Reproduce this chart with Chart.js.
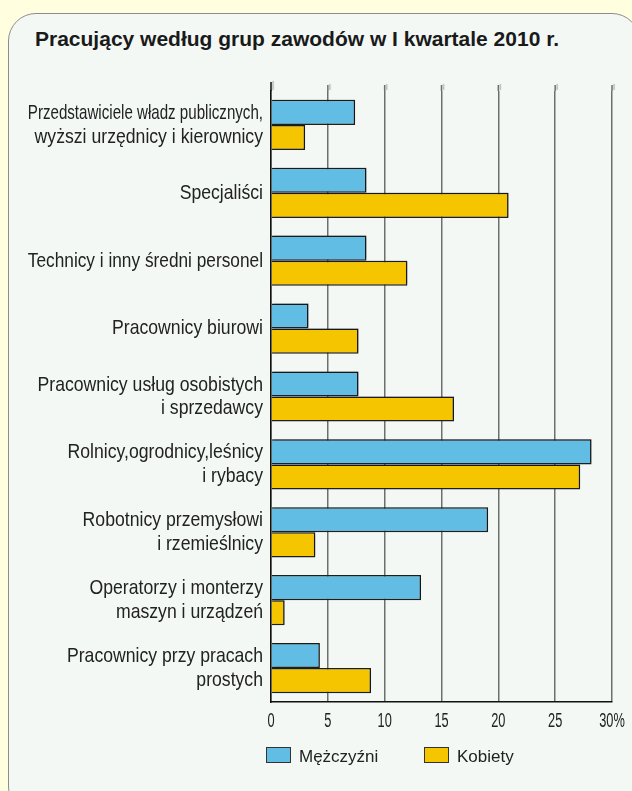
<!DOCTYPE html>
<html>
<head>
<meta charset="utf-8">
<script src="https://cdn.jsdelivr.net/npm/chart.js@4"></script>
<style>
  body { margin: 0; background: #ffffdf; width: 632px; height: 791px; overflow: hidden; position: relative; }
  #panel { position: absolute; left: 8px; top: 13px; width: 630px; height: 800px;
           background: #f3f8f5; border: 1px solid #8c8c8c; border-radius: 28px; }
  #title { position: absolute; left: 35px; top: 27px; font: bold 21px "Liberation Sans", Arial, sans-serif; color: #1a1a1a; white-space: nowrap; }
  #chart-wrap { position: absolute; left: 0; top: 0; width: 632px; height: 791px; }
  .leg { position: absolute; top: 747px; font: 17px "Liberation Sans", Arial, sans-serif; color: #222; white-space: nowrap; }
  .leg span { display: inline-block; width: 23px; height: 14px; border: 1px solid #333; vertical-align: -1px; margin-right: 8px; }
</style>
</head>
<body>
<div id="panel"></div>
<div id="title">Pracujący według grup zawodów w I kwartale 2010 r.</div>
<div id="chart-wrap"><canvas id="chart" width="632" height="791"></canvas></div>
<div class="leg" style="left:266px"><span style="background:#61bde4"></span>Mężczyźni</div>
<div class="leg" style="left:424px"><span style="background:#f5c500"></span>Kobiety</div>
<script>
var categories = [
    ["Przedstawiciele władz publicznych,", "wyższi urzędnicy i kierownicy"],
    "Specjaliści",
    "Technicy i inny średni personel",
    "Pracownicy biurowi",
    ["Pracownicy usług osobistych", "i sprzedawcy"],
    ["Rolnicy,ogrodnicy,leśnicy", "i rybacy"],
    ["Robotnicy przemysłowi", "i rzemieślnicy"],
    ["Operatorzy i monterzy", "maszyn i urządzeń"],
    ["Pracownicy przy pracach", "prostych"]
];
var men = [7.4, 8.4, 8.4, 3.3, 7.7, 28.2, 19.1, 13.2, 4.3];
var women = [3.0, 20.9, 12.0, 7.7, 16.1, 27.2, 3.9, 1.2, 8.8];
var xMax = 30;
var xStep = 5;

var sans = '"Liberation Sans", Arial, sans-serif';
var gridColor = '#6e6e6e';

var barShadow = {
    id: 'barShadow',
    beforeDatasetsDraw: function (chart) {
        var ctx = chart.ctx;
        ctx.save();
        ctx.shadowColor = 'rgba(0,0,0,0.25)';
        ctx.shadowOffsetX = 2;
        ctx.shadowOffsetY = -1;
        ctx.shadowBlur = 1;
    },
    afterDatasetsDraw: function (chart) {
        chart.ctx.restore();
    }
};

// grid lines and the axis poke a little above the plot in the original
var gridStubs = {
    id: 'gridStubs',
    beforeDatasetsDraw: function (chart) {
        var ctx = chart.ctx, x = chart.scales.x, top = chart.chartArea.top;
        ctx.save();
        ctx.lineWidth = 1.5;
        x.ticks.forEach(function (t) {
            var px = x.getPixelForValue(t.value);
            ctx.strokeStyle = t.value === 0 ? '#111' : gridColor;
            ctx.beginPath();
            ctx.moveTo(px, top - (t.value === 0 ? 9 : 6));
            ctx.lineTo(px, top);
            ctx.stroke();
        });
        ctx.restore();
    }
};

// the original uses a narrow face; there is none installed, so squeeze the tick text
var squeeze = function (scale, s, maxWidth) {
    if (scale._squeezed) return;
    var origItems = scale.getLabelItems;
    var origDraw = scale.drawLabels;
    scale.getLabelItems = function (area) {
        var items = origItems.call(this, area);
        items.forEach(function (it) {
            if (it._sq) return;
            it.options.translation = [it.options.translation[0] / s, it.options.translation[1]];
            if (maxWidth) it.options.maxWidth = maxWidth;
            it._sq = true;
        });
        return items;
    };
    scale._computeLabelArea = function () { return undefined; };
    scale.drawLabels = function (area) {
        this.ctx.save();
        this.ctx.scale(s, 1);
        origDraw.call(this, area);
        this.ctx.restore();
    };
    scale._squeezed = true;
};

var narrowTicks = {
    id: 'narrowTicks',
    afterLayout: function (chart) {
        squeeze(chart.scales.y, 0.84, 280);
        squeeze(chart.scales.x, 0.64);
    }
};

var chart = new Chart(document.getElementById("chart"), {
    type: 'bar',
    data: {
        labels: categories,
        datasets: [{
            label: 'Mężczyźni',
            data: men,
            backgroundColor: '#61bde4',
            borderColor: '#1e1e1e',
            borderWidth: 1.5
        }, {
            label: 'Kobiety',
            data: women,
            backgroundColor: '#f5c500',
            borderColor: '#1e1e1e',
            borderWidth: 1.5
        }]
    },
    options: {
        indexAxis: 'y',
        responsive: false,
        animation: false,
        layout: { padding: { top: 91, right: 20, left: 0, bottom: 0 } },
        plugins: {
            legend: { display: false },
            tooltip: { enabled: false }
        },
        datasets: {
            bar: { categoryPercentage: 0.74, barPercentage: 1 }
        },
        scales: {
            x: {
                min: 0,
                max: xMax,
                ticks: {
                    stepSize: xStep,
                    padding: 7,
                    color: '#222',
                    font: { family: sans, size: 20 },
                    callback: function (v) { return v === xMax ? v + '%' : v; }
                },
                grid: { color: gridColor, lineWidth: 1.5, drawTicks: false },
                border: { color: '#111', width: 1.5 },
                afterFit: function (scale) {
                    scale.height = 89;
                    scale.paddingLeft = 0;
                    scale.paddingRight = 0;
                }
            },
            y: {
                ticks: {
                    padding: 8,
                    color: '#222',
                    font: { family: sans, size: 21, lineHeight: 1.12 }
                },
                grid: { display: false, drawTicks: false },
                border: { color: '#111', width: 1.5 },
                afterFit: function (scale) { scale.width = 271; }
            }
        }
    },
    plugins: [barShadow, gridStubs, narrowTicks]
});
</script>
</body>
</html>
